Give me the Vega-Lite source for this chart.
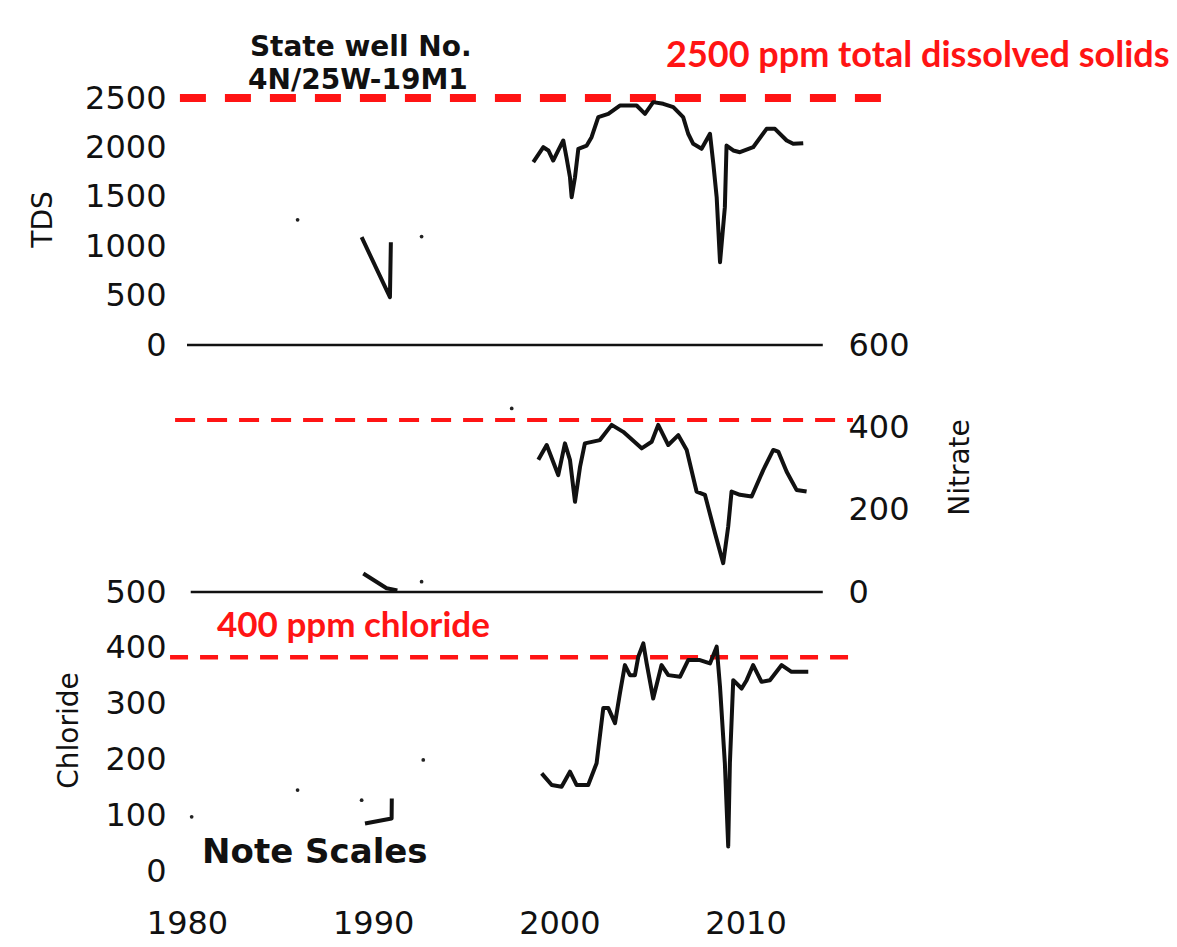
{
  "$schema": "https://vega.github.io/schema/vega-lite/v6.json",
  "autosize": {"type": "none"},
  "padding": {"left": 187, "top": 98, "right": 990, "bottom": 849},
  "background": "white",
  "spacing": 0,
  "bounds": "flush",
  "config": {
    "view": {"stroke": null},
    "axis": {"labelFont": "DejaVu Sans", "labelFontSize": 32, "labelColor": "#111", "titleFont": "DejaVu Sans", "titleFontSize": 28, "titleFontWeight": "normal", "titleColor": "#111", "grid": false, "domain": false, "ticks": false}
  },
  "datasets": {
    "tds": [
      {"year": 1989.38, "value": 1091, "seg": "early"},
      {"year": 1990.90, "value": 484, "seg": "early"},
      {"year": 1990.95, "value": 1040, "seg": "early"},
      {"year": 1998.60, "value": 1850, "seg": "main"},
      {"year": 1999.14, "value": 2002, "seg": "main"},
      {"year": 1999.41, "value": 1969, "seg": "main"},
      {"year": 1999.67, "value": 1867, "seg": "main"},
      {"year": 1999.94, "value": 1969, "seg": "main"},
      {"year": 2000.21, "value": 2070, "seg": "main"},
      {"year": 2000.38, "value": 1901, "seg": "main"},
      {"year": 2000.57, "value": 1698, "seg": "main"},
      {"year": 2000.66, "value": 1496, "seg": "main"},
      {"year": 2000.84, "value": 1698, "seg": "main"},
      {"year": 2001.02, "value": 1986, "seg": "main"},
      {"year": 2001.47, "value": 2019, "seg": "main"},
      {"year": 2001.73, "value": 2103, "seg": "main"},
      {"year": 2002.09, "value": 2306, "seg": "main"},
      {"year": 2002.63, "value": 2340, "seg": "main"},
      {"year": 2003.25, "value": 2424, "seg": "main"},
      {"year": 2004.15, "value": 2424, "seg": "main"},
      {"year": 2004.60, "value": 2340, "seg": "main"},
      {"year": 2005.04, "value": 2458, "seg": "main"},
      {"year": 2005.58, "value": 2441, "seg": "main"},
      {"year": 2006.12, "value": 2407, "seg": "main"},
      {"year": 2006.65, "value": 2306, "seg": "main"},
      {"year": 2006.92, "value": 2138, "seg": "main"},
      {"year": 2007.19, "value": 2036, "seg": "main"},
      {"year": 2007.64, "value": 1986, "seg": "main"},
      {"year": 2008.09, "value": 2138, "seg": "main"},
      {"year": 2008.27, "value": 1834, "seg": "main"},
      {"year": 2008.45, "value": 1496, "seg": "main"},
      {"year": 2008.63, "value": 838, "seg": "main"},
      {"year": 2008.89, "value": 1395, "seg": "main"},
      {"year": 2008.98, "value": 2019, "seg": "main"},
      {"year": 2009.34, "value": 1969, "seg": "main"},
      {"year": 2009.70, "value": 1951, "seg": "main"},
      {"year": 2010.41, "value": 2002, "seg": "main"},
      {"year": 2011.13, "value": 2188, "seg": "main"},
      {"year": 2011.58, "value": 2188, "seg": "main"},
      {"year": 2012.21, "value": 2070, "seg": "main"},
      {"year": 2012.56, "value": 2036, "seg": "main"},
      {"year": 2013.10, "value": 2043, "seg": "main"}
    ],
    "tds_specks": [
      {"year": 1985.94, "value": 1267},
      {"year": 1992.60, "value": 1098}
    ],
    "tds_zero": [{"year": 1980, "year2": 2014.15, "value": 0}],
    "tds_limit": [{"year": 1979.62, "year2": 2017.33, "value": 2500}],
    "tds_notes": [
      {"year": 1983.38, "value": 2930, "label": "State well No."},
      {"year": 1983.28, "value": 2596, "label": "4N/25W-19M1"}
    ],
    "tds_limit_note": [{"year": 2005.73, "value": 2809, "label": "2500 ppm total dissolved solids"}],
    "nitrate": [
      {"year": 1989.47, "value": 45, "seg": "early"},
      {"year": 1990.72, "value": 9, "seg": "early"},
      {"year": 1991.30, "value": 4, "seg": "early"},
      {"year": 1998.87, "value": 321, "seg": "main"},
      {"year": 1999.32, "value": 357, "seg": "main"},
      {"year": 1999.94, "value": 284, "seg": "main"},
      {"year": 2000.30, "value": 361, "seg": "main"},
      {"year": 2000.57, "value": 321, "seg": "main"},
      {"year": 2000.84, "value": 219, "seg": "main"},
      {"year": 2001.11, "value": 304, "seg": "main"},
      {"year": 2001.37, "value": 361, "seg": "main"},
      {"year": 2002.18, "value": 369, "seg": "main"},
      {"year": 2002.81, "value": 406, "seg": "main"},
      {"year": 2003.43, "value": 389, "seg": "main"},
      {"year": 2004.42, "value": 349, "seg": "main"},
      {"year": 2004.96, "value": 365, "seg": "main"},
      {"year": 2005.31, "value": 406, "seg": "main"},
      {"year": 2005.85, "value": 357, "seg": "main"},
      {"year": 2006.39, "value": 381, "seg": "main"},
      {"year": 2006.84, "value": 345, "seg": "main"},
      {"year": 2007.37, "value": 244, "seg": "main"},
      {"year": 2007.82, "value": 236, "seg": "main"},
      {"year": 2008.36, "value": 143, "seg": "main"},
      {"year": 2008.80, "value": 70, "seg": "main"},
      {"year": 2009.07, "value": 159, "seg": "main"},
      {"year": 2009.25, "value": 244, "seg": "main"},
      {"year": 2009.70, "value": 236, "seg": "main"},
      {"year": 2010.33, "value": 232, "seg": "main"},
      {"year": 2010.95, "value": 296, "seg": "main"},
      {"year": 2011.49, "value": 345, "seg": "main"},
      {"year": 2011.76, "value": 341, "seg": "main"},
      {"year": 2012.21, "value": 292, "seg": "main"},
      {"year": 2012.74, "value": 248, "seg": "main"},
      {"year": 2013.28, "value": 244, "seg": "main"}
    ],
    "nitrate_specks": [
      {"year": 1997.44, "value": 446},
      {"year": 1992.60, "value": 25}
    ],
    "nitrate_zero": [{"year": 1980.2, "year2": 2014.15, "value": 0}],
    "nitrate_limit": [{"year": 1979.36, "year2": 2015.77, "value": 418}],
    "chloride": [
      {"year": 1989.56, "value": 85, "seg": "early"},
      {"year": 1990.99, "value": 94, "seg": "early"},
      {"year": 1991.00, "value": 130, "seg": "early"},
      {"year": 1999.05, "value": 175, "seg": "main"},
      {"year": 1999.59, "value": 154, "seg": "main"},
      {"year": 2000.12, "value": 151, "seg": "main"},
      {"year": 2000.57, "value": 178, "seg": "main"},
      {"year": 2000.93, "value": 154, "seg": "main"},
      {"year": 2001.55, "value": 154, "seg": "main"},
      {"year": 2002.00, "value": 193, "seg": "main"},
      {"year": 2002.36, "value": 292, "seg": "main"},
      {"year": 2002.63, "value": 292, "seg": "main"},
      {"year": 2002.99, "value": 265, "seg": "main"},
      {"year": 2003.25, "value": 318, "seg": "main"},
      {"year": 2003.52, "value": 369, "seg": "main"},
      {"year": 2003.79, "value": 351, "seg": "main"},
      {"year": 2004.06, "value": 351, "seg": "main"},
      {"year": 2004.24, "value": 384, "seg": "main"},
      {"year": 2004.51, "value": 408, "seg": "main"},
      {"year": 2004.69, "value": 372, "seg": "main"},
      {"year": 2005.04, "value": 309, "seg": "main"},
      {"year": 2005.49, "value": 369, "seg": "main"},
      {"year": 2005.85, "value": 351, "seg": "main"},
      {"year": 2006.48, "value": 348, "seg": "main"},
      {"year": 2006.92, "value": 378, "seg": "main"},
      {"year": 2007.55, "value": 378, "seg": "main"},
      {"year": 2008.09, "value": 372, "seg": "main"},
      {"year": 2008.45, "value": 402, "seg": "main"},
      {"year": 2008.63, "value": 330, "seg": "main"},
      {"year": 2008.89, "value": 193, "seg": "main"},
      {"year": 2009.07, "value": 44, "seg": "main"},
      {"year": 2009.16, "value": 193, "seg": "main"},
      {"year": 2009.34, "value": 342, "seg": "main"},
      {"year": 2009.79, "value": 327, "seg": "main"},
      {"year": 2010.06, "value": 342, "seg": "main"},
      {"year": 2010.41, "value": 369, "seg": "main"},
      {"year": 2010.86, "value": 339, "seg": "main"},
      {"year": 2011.31, "value": 342, "seg": "main"},
      {"year": 2011.94, "value": 369, "seg": "main"},
      {"year": 2012.47, "value": 357, "seg": "main"},
      {"year": 2013.37, "value": 357, "seg": "main"}
    ],
    "chloride_specks": [
      {"year": 1985.94, "value": 145},
      {"year": 1992.69, "value": 199},
      {"year": 1989.38, "value": 127},
      {"year": 1980.25, "value": 97}
    ],
    "chloride_limit": [{"year": 1979.09, "year2": 2016.14, "value": 383}],
    "chloride_limit_note": [{"year": 1981.61, "value": 419, "label": "400 ppm chloride"}],
    "chloride_notes": [{"year": 1980.81, "value": 14.3, "label": "Note Scales"}]
  },
  "vconcat": [
    {
      "width": 633,
      "height": 247,
      "encoding": {
        "x": {"field": "year", "type": "quantitative", "scale": {"domain": [1980, 2014], "nice": false, "zero": false}, "axis": null},
        "y": {"field": "value", "type": "quantitative", "scale": {"domain": [0, 2500], "nice": false},
              "axis": {"values": [0, 500, 1000, 1500, 2000, 2500], "format": "d", "labelPadding": 21, "title": "TDS", "titleAngle": 270, "titleX": -144, "titleY": 121, "titleBaseline": "middle", "titleAlign": "center"}}
      },
      "layer": [
        {
          "data": {"name": "tds_zero"},
          "mark": {"type": "rule", "color": "#111", "strokeWidth": 2.5},
          "encoding": {"x2": {"field": "year2"}}
        },
        {
          "data": {"name": "tds_limit"},
          "mark": {"type": "rule", "color": "#ff1414", "strokeWidth": 8, "strokeDash": [26, 19]},
          "encoding": {"x2": {"field": "year2"}}
        },
        {
          "data": {"name": "tds"},
          "mark": {"type": "line", "color": "#111", "strokeWidth": 4, "strokeJoin": "round"},
          "encoding": {"detail": {"field": "seg", "type": "nominal"}}
        },
        {
          "data": {"name": "tds_specks"},
          "mark": {"type": "point", "filled": true, "size": 14, "color": "#222", "opacity": 1}
        },
        {
          "data": {"name": "tds_notes"},
          "mark": {"type": "text", "font": "DejaVu Sans", "fontWeight": "bold", "fontSize": 28, "align": "left", "baseline": "alphabetic", "color": "#111"},
          "encoding": {"text": {"field": "label"}}
        },
        {
          "data": {"name": "tds_limit_note"},
          "mark": {"type": "text", "font": "Lato", "fontWeight": "bold", "fontSize": 36, "align": "left", "baseline": "alphabetic", "color": "#ff1414"},
          "encoding": {"text": {"field": "label"}}
        }
      ]
    },
    {
      "width": 633,
      "height": 247,
      "encoding": {
        "x": {"field": "year", "type": "quantitative", "scale": {"domain": [1980, 2014], "nice": false, "zero": false}, "axis": null},
        "y": {"field": "value", "type": "quantitative", "scale": {"domain": [0, 600], "nice": false},
              "axis": {"orient": "right", "values": [0, 200, 400, 600], "format": "d", "labelPadding": 28, "title": "Nitrate", "titleAngle": 270, "titleX": 140, "titleY": 122, "titleBaseline": "middle", "titleAlign": "center"}}
      },
      "layer": [
        {
          "data": {"name": "nitrate_zero"},
          "mark": {"type": "rule", "color": "#111", "strokeWidth": 2.5},
          "encoding": {"x2": {"field": "year2"}}
        },
        {
          "data": {"name": "nitrate_limit"},
          "mark": {"type": "rule", "color": "#ff1414", "strokeWidth": 4, "strokeDash": [20, 12]},
          "encoding": {"x2": {"field": "year2"}}
        },
        {
          "data": {"name": "nitrate"},
          "mark": {"type": "line", "color": "#111", "strokeWidth": 4, "strokeJoin": "round"},
          "encoding": {"detail": {"field": "seg", "type": "nominal"}}
        },
        {
          "data": {"name": "nitrate_specks"},
          "mark": {"type": "point", "filled": true, "size": 14, "color": "#222", "opacity": 1}
        }
      ]
    },
    {
      "width": 633,
      "height": 279,
      "encoding": {
        "x": {"field": "year", "type": "quantitative", "scale": {"domain": [1980, 2014], "nice": false, "zero": false},
              "axis": {"values": [1980, 1990, 2000, 2010], "format": "d", "labelPadding": 37, "labelFlush": false, "title": null}},
        "y": {"field": "value", "type": "quantitative", "scale": {"domain": [0, 500], "nice": false},
              "axis": {"values": [0, 100, 200, 300, 400, 500], "format": "d", "labelPadding": 21, "title": "Chloride", "titleAngle": 270, "titleX": -118, "titleY": 138, "titleBaseline": "middle", "titleAlign": "center"}}
      },
      "layer": [
        {
          "data": {"name": "chloride_limit"},
          "mark": {"type": "rule", "color": "#ff1414", "strokeWidth": 4.5, "strokeDash": [18, 12]},
          "encoding": {"x2": {"field": "year2"}}
        },
        {
          "data": {"name": "chloride"},
          "mark": {"type": "line", "color": "#111", "strokeWidth": 4, "strokeJoin": "round"},
          "encoding": {"detail": {"field": "seg", "type": "nominal"}}
        },
        {
          "data": {"name": "chloride_specks"},
          "mark": {"type": "point", "filled": true, "size": 14, "color": "#222", "opacity": 1}
        },
        {
          "data": {"name": "chloride_limit_note"},
          "mark": {"type": "text", "font": "Lato", "fontWeight": "bold", "fontSize": 35, "align": "left", "baseline": "alphabetic", "color": "#ff1414"},
          "encoding": {"text": {"field": "label"}}
        },
        {
          "data": {"name": "chloride_notes"},
          "mark": {"type": "text", "font": "DejaVu Sans", "fontWeight": "bold", "fontSize": 34, "align": "left", "baseline": "alphabetic", "color": "#111"},
          "encoding": {"text": {"field": "label"}}
        }
      ]
    }
  ]
}
